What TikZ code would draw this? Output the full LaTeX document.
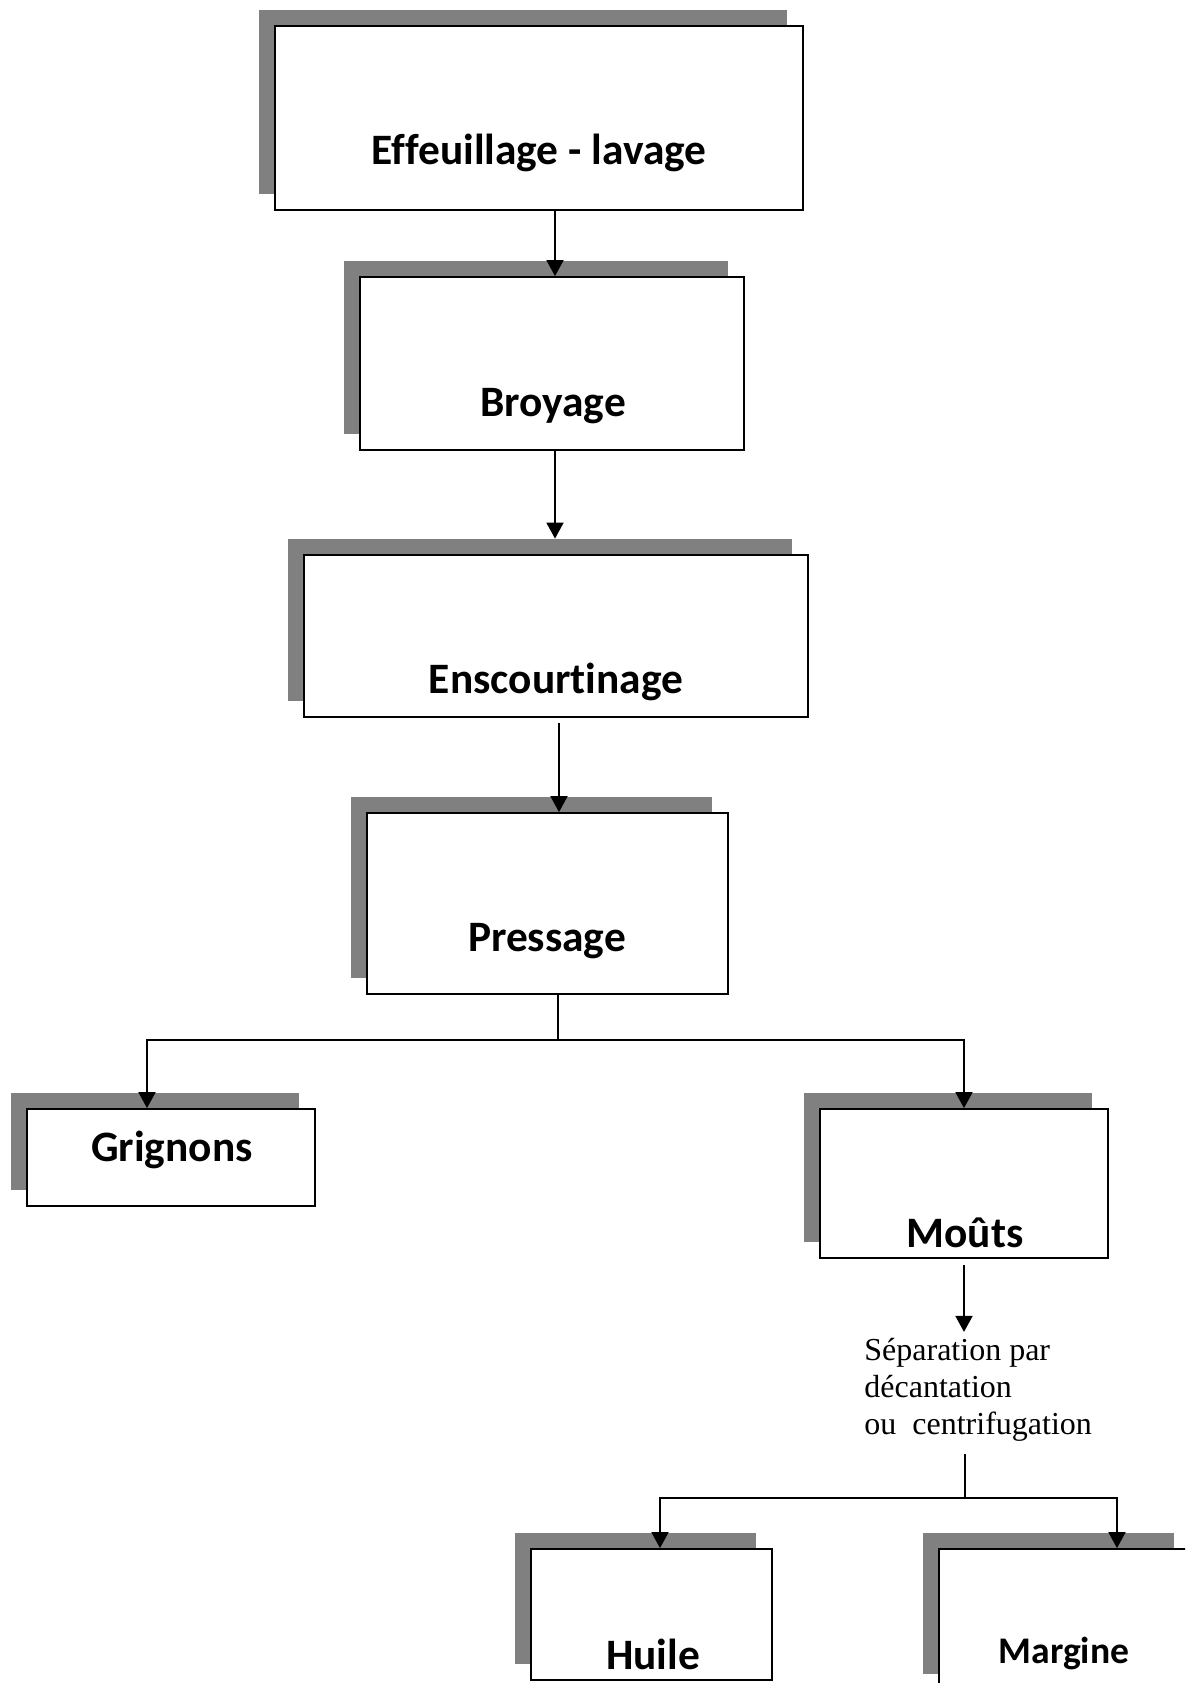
\documentclass[tikz,border=0pt]{standalone}
\usepackage{fontspec}
\setmainfont{Liberation Serif}
\newfontfamily\calib[Ligatures={NoCommon}]{Carlito}
\usetikzlibrary{fit,calc,arrows.meta}
\newcommand\procbox[5]{%
  \node[shad, fit={(#2-16,#3-16) (#4-16,#5-16)}] (s#1) {};
  \node[wbox, fit={(#2,#3) (#4,#5)}] (#1) {};}
\begin{document}
\begin{tikzpicture}[x=0.5pt,y=-0.5pt,
  shad/.style={fill=black!50, draw=none, inner sep=0pt},
  wbox/.style={draw=black, fill=white, line width=0.9pt, inner sep=0pt},
  lbl/.style={font=\calib\bfseries\fontsize{21.7}{25}\selectfont, inner sep=0pt, anchor=base},
  conn/.style={line width=0.9pt},
  arr/.style={conn, -{Triangle[width=8.5pt,length=8pt]}},
  sepl/.style={font=\fontsize{16}{18.5}\selectfont, align=left, inner sep=0pt, anchor=base west}]
\useasboundingbox (0,0) rectangle (1185,1683);
\clip (0,0) rectangle (1185,1683);
\fill[white] (0,0) rectangle (1185,1683);
% boxes
\procbox{b1}{275}{26}{803}{210}
\procbox{b2}{360}{277}{744}{450}
\procbox{b3}{304}{555}{808}{717}
\procbox{b4}{367}{813}{728}{994}
\procbox{g}{27}{1109}{315}{1206}
\procbox{m}{820}{1109}{1108}{1258}
\procbox{h}{531}{1549}{772}{1680}
\procbox{mg}{939}{1549}{1190}{1690}
% labels
\node[lbl] (t1) at (539,164) {Effeuillage - lavage};
\node[lbl] (t2) at (553,416) {Broyage};
\node[lbl] (t3) at (556,693) {Enscourtinage};
\node[lbl] (t4) at (547,951) {Pressage};
\node[lbl] (t5) at (172,1161) {Grignons};
\node[lbl] (t6) at (965,1247) {Moûts};
\node[lbl] (t7) at (653,1669) {Huile};
\node[lbl, font=\calib\bfseries\fontsize{18.8}{22}\selectfont] (t8) at (1064,1663) {Margine};
\node[sepl] (sep) at (864,1434) {Séparation par\\décantation\\ou\ \ centrifugation};
% connectors
\coordinate (a1) at (555,210);
\draw[arr] (a1) -- (a1 |- b2.north);
\coordinate (a2) at (555,450);
\draw[arr] (a2) -- (a2 |- sb3.north);
\coordinate (a3) at (559,723);
\draw[arr] (a3) -- (a3 |- b4.north);
\coordinate (j1) at (558,1040);
\coordinate (jg) at (147,1040);
\coordinate (jm) at (964,1040);
\draw[conn] (j1 |- b4.south) -- (j1);
\draw[arr] (j1) -- (jg) -- (jg |- g.north);
\draw[arr] (j1) -- (jm) -- (jm |- m.north);
\draw[arr] ($(m.south)+(0,6)$) -- ($(m.south)+(0,73)$);
\coordinate (k2) at (965,1454);
\coordinate (j2) at (965,1498);
\coordinate (jh) at (660,1498);
\coordinate (jmg) at (1117,1498);
\draw[conn] (k2) -- (j2);
\draw[arr] (j2) -- (jh) -- (jh |- h.north);
\draw[arr] (j2) -- (jmg) -- (jmg |- mg.north);
\end{tikzpicture}
\end{document}
